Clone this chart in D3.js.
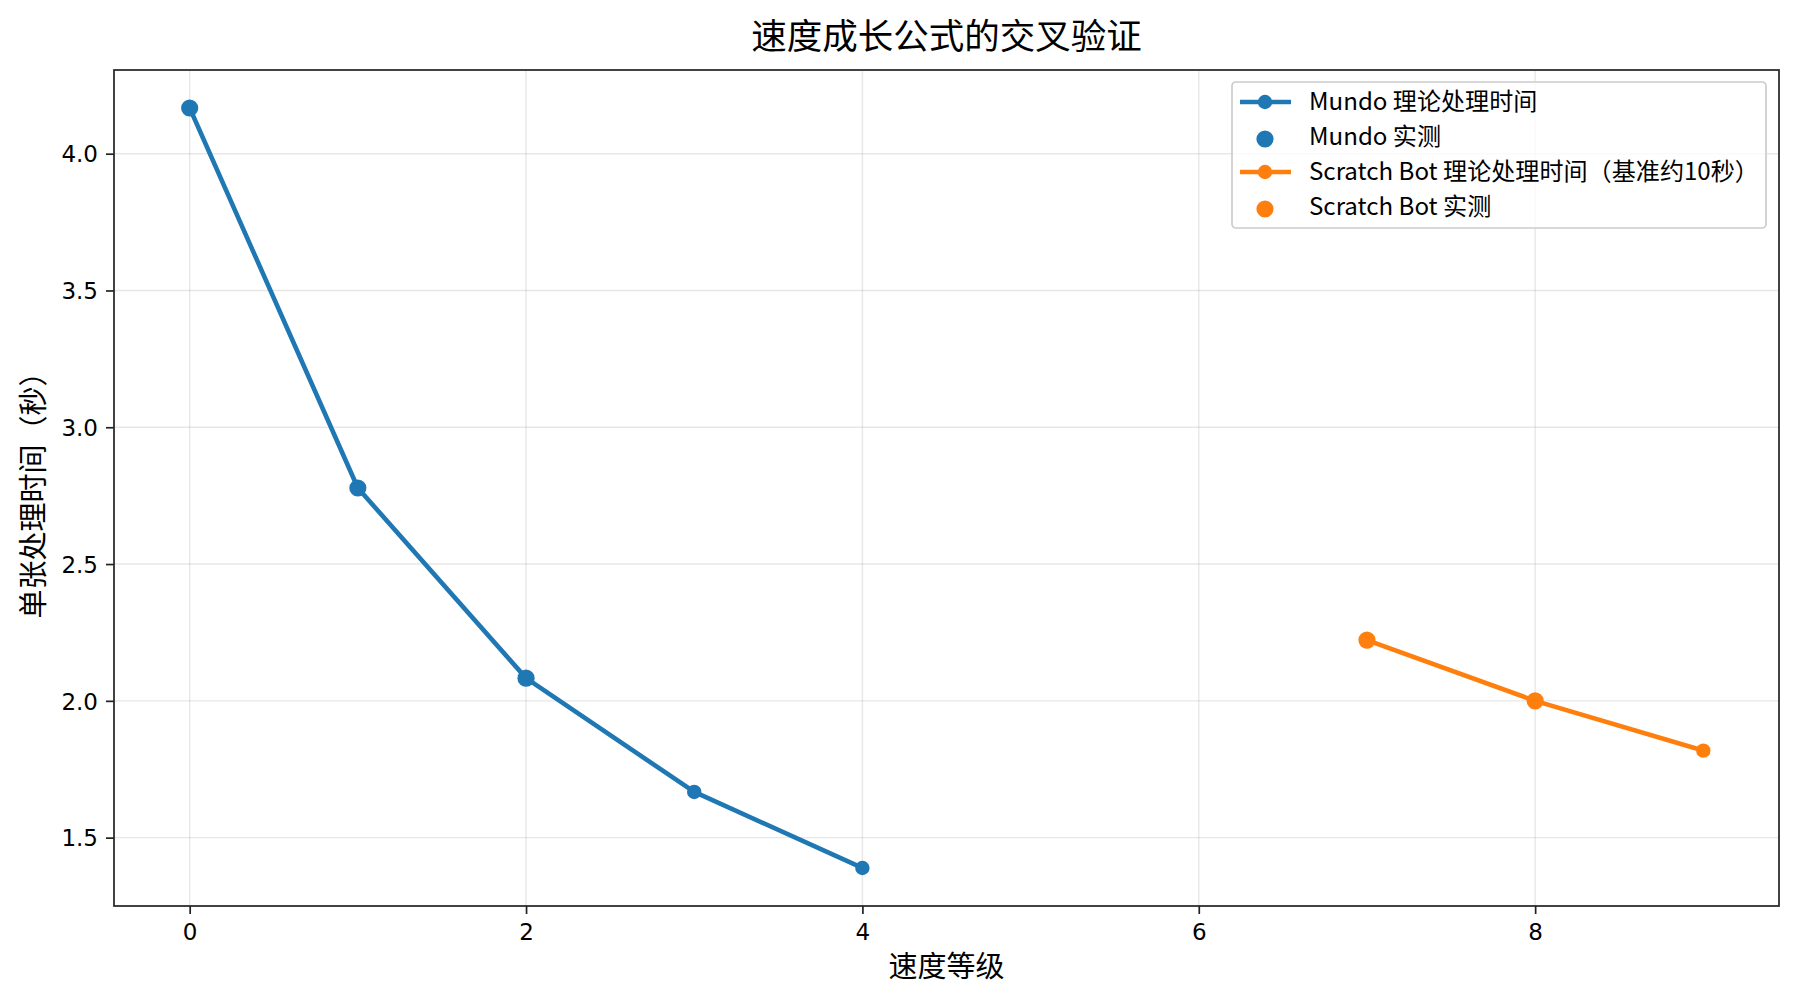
<!DOCTYPE html>
<meta charset="utf-8">
<html>
<head>
  <style>
    body { margin: 0; background: #fff; }
    svg { display: block; }
    .tick text { font-family: "DejaVu Sans", sans-serif; font-size: 23px; fill: #000; }
    .cjk { font-family: "Noto Sans CJK SC", sans-serif; fill: #000; }
  </style>
</head>
<body>
<svg id="chart" width="1800" height="1005"></svg>
<script src="https://d3js.org/d3.v7.min.js"></script>
<script>
  const title = "速度成长公式的交叉验证";
  const xLabel = "速度等级";
  const yLabel = "单张处理时间（秒）";

  const mundoLevels = [0, 1, 2, 3, 4];
  const mundoTheory = [4.167, 2.778, 2.083, 1.667, 1.389];
  const mundoActualLevels = [0, 1, 2];
  const mundoActual = [4.167, 2.778, 2.083];

  const botLevels = [7, 8, 9];
  const botTheory = [2.222, 2.0, 1.818];
  const botActualLevels = [7, 8];
  const botActual = [2.222, 2.0];

  const xTicks = [0, 2, 4, 6, 8];
  const yTicks = [1.5, 2.0, 2.5, 3.0, 3.5, 4.0];

  const legendLabels = ["Mundo 理论处理时间", "Mundo 实测", "Scratch Bot 理论处理时间（基准约10秒）", "Scratch Bot 实测"];

  const blue = "#1f77b4", orange = "#ff7f0e";

  const svg = d3.select("#chart");
  const plotL = 114, plotR = 1779, plotT = 70, plotB = 906;

  // matplotlib-like 5% margins
  const x = d3.scaleLinear().domain([-0.45, 9.45]).range([plotL, plotR]);
  const yMin = 1.389, yMax = 4.167, pad = (yMax - yMin) * 0.05;
  const y = d3.scaleLinear().domain([yMin - pad, yMax + pad]).range([plotB, plotT]);

  // grid
  const grid = svg.append("g");
  grid.selectAll(".gx").data(xTicks).enter().append("line")
    .attr("x1", d => x(d)).attr("x2", d => x(d))
    .attr("y1", plotT).attr("y2", plotB)
    .attr("stroke", "#b0b0b0").attr("stroke-opacity", 0.3).attr("stroke-width", 1.4);
  grid.selectAll(".gy").data(yTicks).enter().append("line")
    .attr("x1", plotL).attr("x2", plotR)
    .attr("y1", d => y(d)).attr("y2", d => y(d))
    .attr("stroke", "#b0b0b0").attr("stroke-opacity", 0.3).attr("stroke-width", 1.4);

  // axes
  const xAxis = svg.append("g")
    .attr("transform", `translate(0,${plotB})`)
    .call(d3.axisBottom(x).tickValues(xTicks).tickFormat(d3.format("d")).tickSize(8).tickPadding(8));
  const yAxis = svg.append("g")
    .attr("transform", `translate(${plotL},0)`)
    .call(d3.axisLeft(y).tickValues(yTicks).tickFormat(d3.format(".1f")).tickSize(8).tickPadding(8));
  [xAxis, yAxis].forEach(a => {
    a.select(".domain").remove();
    a.selectAll(".tick line").attr("stroke", "#222").attr("stroke-width", 1.7);
  });
  xAxis.selectAll(".tick text").attr("dy", "0.8em");
  yAxis.selectAll(".tick text").attr("dy", "0.36em");

  svg.append("rect")
    .attr("x", plotL).attr("y", plotT)
    .attr("width", plotR - plotL).attr("height", plotB - plotT)
    .attr("fill", "none").attr("stroke", "#222").attr("stroke-width", 1.7);

  // series
  const line = d3.line().x(d => x(d[0])).y(d => y(d[1]));

  function drawSeries(levels, theory, actLevels, actual, color) {
    const pts = levels.map((l, i) => [l, theory[i]]);
    svg.append("path").datum(pts)
      .attr("d", line).attr("fill", "none")
      .attr("stroke", color).attr("stroke-width", 4.6)
      .attr("stroke-linejoin", "round").attr("stroke-linecap", "square");
    svg.append("g").selectAll("circle").data(pts).enter().append("circle")
      .attr("cx", d => x(d[0])).attr("cy", d => y(d[1]))
      .attr("r", 7.2).attr("fill", color);
    const act = actLevels.map((l, i) => [l, actual[i]]);
    svg.append("g").selectAll("circle").data(act).enter().append("circle")
      .attr("cx", d => x(d[0])).attr("cy", d => y(d[1]))
      .attr("r", 8.6).attr("fill", color);
  }
  drawSeries(mundoLevels, mundoTheory, mundoActualLevels, mundoActual, blue);
  drawSeries(botLevels, botTheory, botActualLevels, botActual, orange);

  // labels
  svg.append("text").attr("class", "cjk")
    .attr("x", (plotL + plotR) / 2).attr("y", 49)
    .attr("text-anchor", "middle").style("font-size", "35.5px")
    .text(title);
  svg.append("text").attr("class", "cjk")
    .attr("x", (plotL + plotR) / 2).attr("y", 977)
    .attr("text-anchor", "middle").style("font-size", "29px")
    .text(xLabel);
  svg.append("text").attr("class", "cjk")
    .attr("transform", `translate(44,${(plotT + plotB) / 2}) rotate(-90)`)
    .attr("text-anchor", "middle").style("font-size", "29px")
    .text(yLabel);

  // legend
  const lg = svg.append("g");
  lg.append("rect")
    .attr("x", 1232).attr("y", 82).attr("width", 534).attr("height", 146)
    .attr("rx", 4).attr("fill", "#fff").attr("fill-opacity", 0.8)
    .attr("stroke", "#cccccc").attr("stroke-width", 1.7);
  const legendItems = [
    { label: legendLabels[0], color: blue, type: "line" },
    { label: legendLabels[1], color: blue, type: "dot" },
    { label: legendLabels[2], color: orange, type: "line" },
    { label: legendLabels[3], color: orange, type: "dot" }
  ];
  legendItems.forEach((it, i) => {
    const cy = 102 + i * 35;
    const g = lg.append("g");
    if (it.type === "line") {
      g.append("line").attr("x1", 1240).attr("x2", 1291)
        .attr("y1", cy).attr("y2", cy)
        .attr("stroke", it.color).attr("stroke-width", 4.6);
      g.append("circle").attr("cx", 1265).attr("cy", cy).attr("r", 7.2).attr("fill", it.color);
    } else {
      g.append("circle").attr("cx", 1265).attr("cy", cy + 2).attr("r", 8.6).attr("fill", it.color);
    }
    g.append("text").attr("class", "cjk")
      .attr("x", 1309).attr("y", cy + 8)
      .style("font-size", "24.1px")
      .text(it.label);
  });
</script>
</body>
</html>
